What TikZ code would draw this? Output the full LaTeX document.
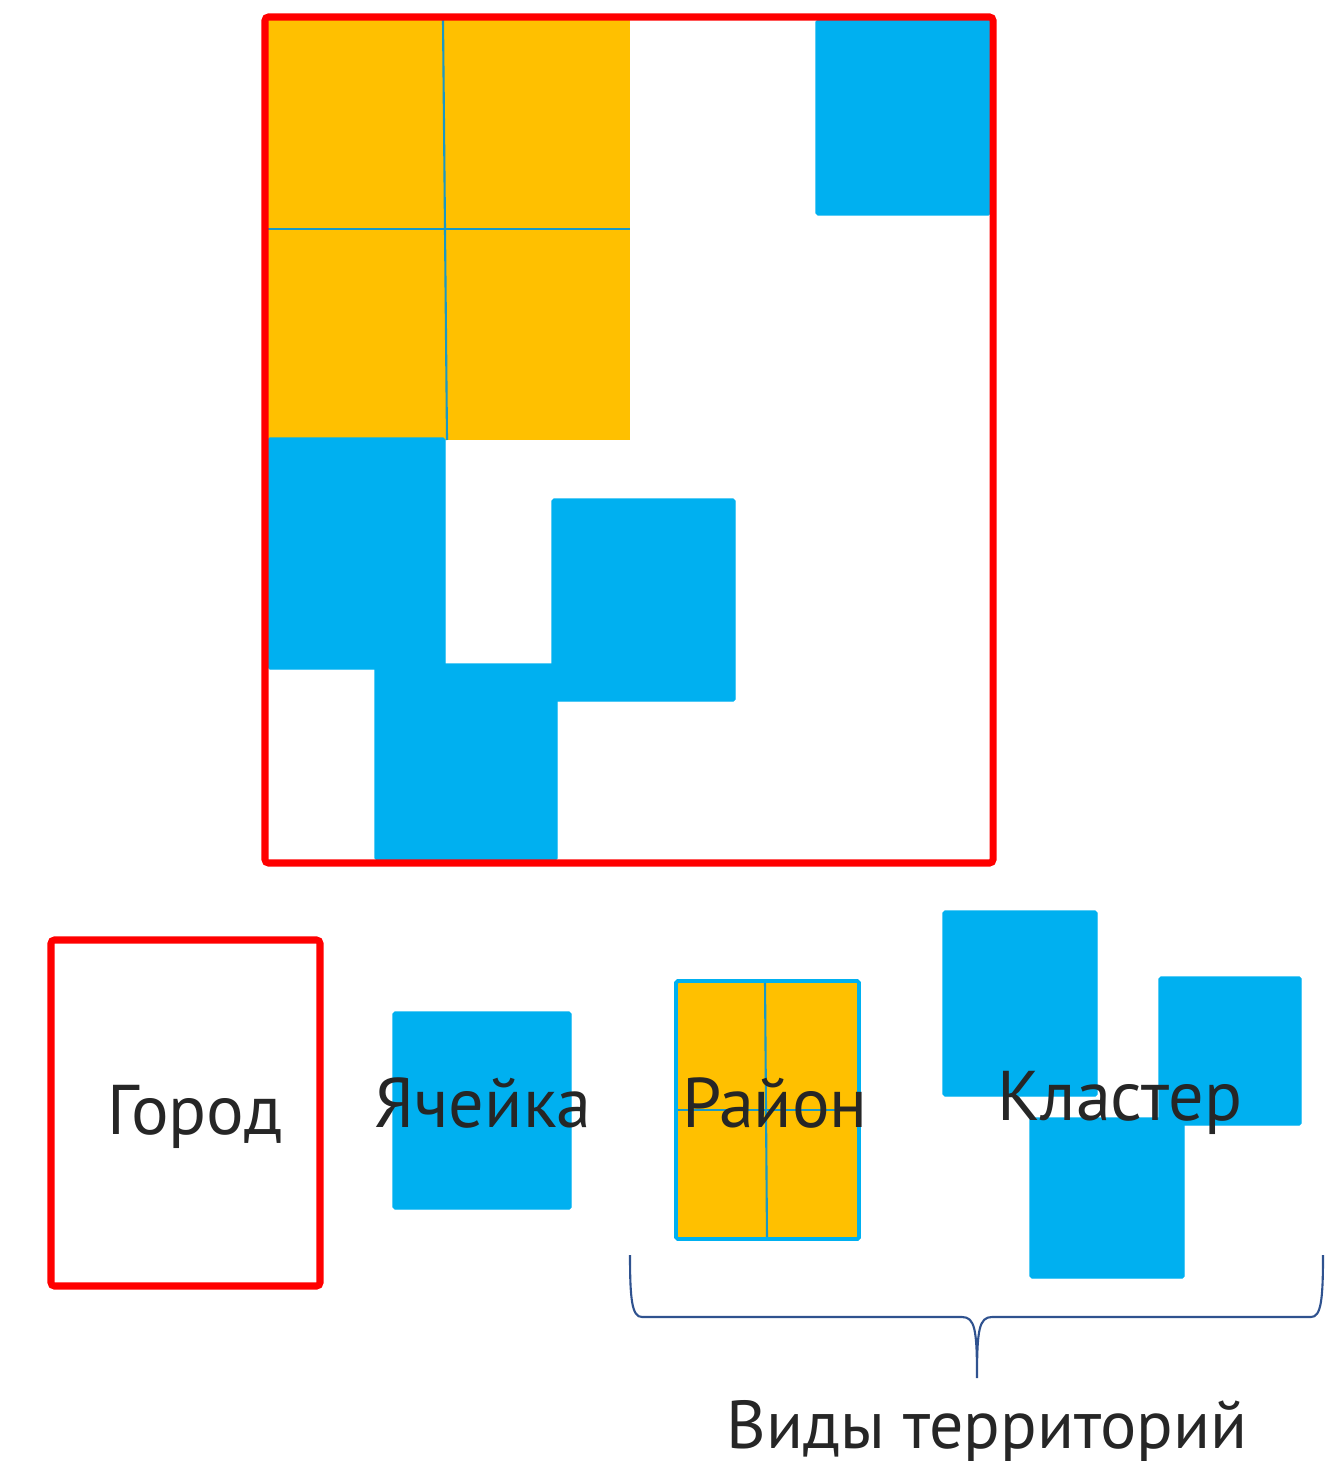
\documentclass[tikz,border=0pt]{standalone}
\usepackage{fontspec}
\setmainfont{PT Sans}
\usetikzlibrary{positioning}
\definecolor{cityred}{HTML}{FF0000}
\definecolor{cellblue}{HTML}{00B0F0}
\definecolor{areagold}{HTML}{FFC000}
\definecolor{bracenavy}{HTML}{2F528F}
\definecolor{inkgray}{HTML}{262626}

\begin{document}
\begin{tikzpicture}[x=0.01cm, y=-0.01cm,
    cityframe/.style={draw=cityred, line width=2pt, rounded corners=1pt},
    cell/.style={fill=cellblue, draw=cellblue, line width=0.3pt, rounded corners=0.5pt},
    district/.style={fill=areagold},
    gridline/.style={draw=cellblue!80!black!90, line width=0.6pt},
    caption/.style={text=inkgray, font=\fontsize{20}{24}\selectfont, inner sep=0pt},
    bigcaption/.style={text=inkgray, font=\fontsize{19.3}{23}\selectfont, inner sep=0pt},
]
    \useasboundingbox (0,0) rectangle (1338,1461);

    % City map
    \fill[district] (268,20) rectangle (630,440);
    \draw[gridline] (443,20) -- (447,440);
    \draw[gridline] (268,229) -- (630,229);
    \filldraw[cell] (816,20) rectangle (990,215);
    \filldraw[cell] (268,438) rectangle (445,669);
    \filldraw[cell] (375,664) rectangle (557,860);
    \filldraw[cell] (552,499) rectangle (735,701);
    \draw[cityframe] (265,17) rectangle (993,863);

    % Legend
    \draw[cityframe] (51,940) rectangle (320,1286);
    \node[caption] (gorod) at (195,1117) {Город};

    \filldraw[cell] (393,1012) rectangle (571,1209);
    \node[caption] (yacheyka) at (483,1103) {Ячейка};

    \fill[district] (676,981) rectangle (859,1239);
    \draw[gridline] (765,981) -- (767,1239);
    \draw[gridline] (676,1110) -- (859,1110);
    \draw[draw=cellblue, line width=1.1pt, rounded corners=0.5pt] (676,981) rectangle (859,1239);
    \node[caption] (rayon) at (775,1103) {Район};

    \filldraw[cell] (943,911) rectangle (1097,1096);
    \filldraw[cell] (1159,977) rectangle (1301,1125);
    \filldraw[cell] (1030,1118) rectangle (1184,1278);
    \node[caption] (klaster) at (1120,1103) {Кластер};

    % Brace
    \coordinate (braceL) at (630,1255);
    \coordinate (braceR) at (1323,1255);
    \coordinate (braceTip) at (977,1378);
    \draw[bracenavy, line width=0.6pt]
        (braceL) .. controls (630,1300) and (632,1317) .. (642,1317)
        -- (962,1317) .. controls (975,1317) and (977,1330) .. (braceTip)
        (braceTip) .. controls (977,1330) and (979,1317) .. (992,1317)
        -- (1311,1317) .. controls (1321,1317) and (1323,1300) .. (braceR);
    \node[bigcaption] (vidy) at (987,1431) {Виды территорий};
\end{tikzpicture}
\end{document}
